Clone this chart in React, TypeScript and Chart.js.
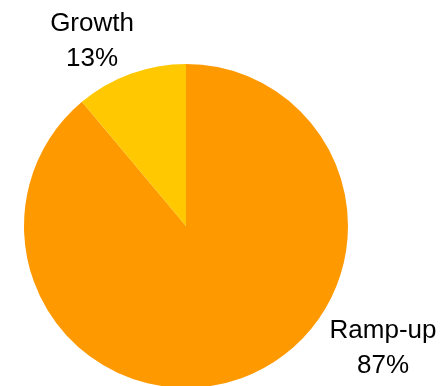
import React, { useEffect, useRef } from "react";
import { Chart, registerables } from "chart.js";

Chart.register(...registerables);

const categories = ["Ramp-up", "Growth"];
const values = [88.9, 11.1];
const percentLabels = ["87%", "13%"];
const colors = ["#FF9900", "#FFC800"];
// label anchor offsets in units of pie radius (relative to pie centre)
const labelOffsets = [
  [1.216, 0.691],
  [-0.58, -1.204],
];

const labelPlugin = {
  id: "outerLabels",
  afterDatasetsDraw(chart: any) {
    const meta = chart.getDatasetMeta(0);
    const ctx = chart.ctx;
    ctx.save();
    ctx.font = '26px "Liberation Sans", Arial, sans-serif';
    ctx.fillStyle = "#000000";
    ctx.textAlign = "center";
    ctx.textBaseline = "alphabetic";
    meta.data.forEach((arc: any, i: number) => {
      const { x, y, outerRadius } = arc.getProps(["x", "y", "outerRadius"], true);
      const lx = x + labelOffsets[i][0] * outerRadius;
      const ly = y + labelOffsets[i][1] * outerRadius;
      ctx.fillText(categories[i], lx, ly);
      ctx.fillText(percentLabels[i], lx, ly + 35);
    });
    ctx.restore();
  },
};

export default function App() {
  const ref = useRef<HTMLCanvasElement>(null);
  useEffect(() => {
    if (!ref.current) return;
    const chart = new Chart(ref.current, {
      type: "pie",
      data: {
        labels: categories,
        datasets: [
          {
            data: values,
            backgroundColor: colors,
            borderWidth: 0,
          },
        ],
      },
      options: {
        responsive: false,
        animation: false,
        layout: { padding: { left: 24, right: 100, top: 64, bottom: 2 } },
        plugins: {
          legend: { display: false },
          tooltip: { enabled: false },
        },
      },
      plugins: [labelPlugin],
    });
    return () => chart.destroy();
  }, []);
  return (
    <div
      style={{
        position: "fixed",
        left: 0,
        top: 0,
        width: 448,
        height: 386,
        overflow: "hidden",
        background: "#ffffff",
      }}
    >
      <canvas ref={ref} width={448} height={390} style={{ display: "block" }} />
    </div>
  );
}
